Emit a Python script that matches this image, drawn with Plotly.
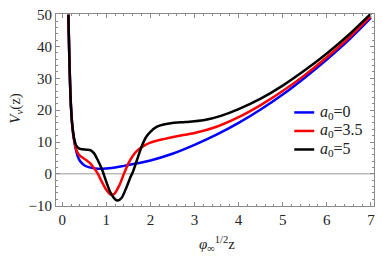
import plotly.graph_objects as go

# Data
z_blue = [0.14, 0.16, 0.18, 0.2, 0.23, 0.27, 0.3, 0.35, 0.4, 0.5, 0.6, 0.75, 0.9, 1.0, 1.2, 1.4, 1.7,
          2.0, 2.5, 3.0, 3.5, 4.0, 4.5, 5.0, 5.5, 6.0, 6.5, 7.0]
v_blue = [50, 38, 28, 21, 15, 10.5, 8.3, 5.6, 4.1, 2.7, 2.1, 1.7, 1.6, 1.7, 2.0, 2.5, 3.3,
          4.2, 6.3, 9.1, 12.3, 16.0, 20.2, 24.9, 30.2, 35.9, 42.1, 49.0]

z_red = [0.14, 0.16, 0.18, 0.2, 0.23, 0.27, 0.32, 0.38, 0.45, 0.55, 0.62, 0.7, 0.8, 0.9, 1.0, 1.1,
         1.18, 1.3, 1.4, 1.5, 1.6, 1.7, 1.85, 2.0, 2.3, 2.6, 3.0, 3.5, 4.0, 4.5, 5.0, 5.5, 6.0, 6.5, 7.0]
v_red = [50, 38, 28, 21, 15, 10.8, 7.6, 6.0, 5.2, 4.3, 3.5, 2.2, 0.2, -2.5, -5.0, -6.5,
         -6.3, -3.5, 0.0, 3.2, 5.6, 7.3, 8.8, 9.8, 10.9, 11.8, 12.8, 14.8, 17.8, 21.6, 26.0, 31.0, 36.6, 42.7, 49.5]

z_black = [0.14, 0.16, 0.18, 0.2, 0.23, 0.27, 0.32, 0.38, 0.45, 0.55, 0.65, 0.72, 0.8, 0.9, 1.0, 1.1,
           1.2, 1.26, 1.35, 1.45, 1.55, 1.6, 1.7, 1.8, 1.9, 2.0, 2.15, 2.3, 2.5, 2.8, 3.2, 3.6, 4.0, 4.5,
           5.0, 5.5, 6.0, 6.5, 7.0]
v_black = [50, 38, 28, 21, 15.2, 11.2, 8.9, 8.0, 7.7, 7.6, 7.4, 6.5, 4.5, 1.5, -2.5, -6.0,
           -8.0, -8.4, -7.5, -4.5, -1.0, 0.5, 4.5, 8.5, 11.5, 13.2, 14.8, 15.5, 16.0, 16.3, 16.8, 18.2, 20.3, 23.6,
           27.7, 32.5, 37.8, 43.7, 50.3]

labels = ["<i>a</i><sub>0</sub>=0", "<i>a</i><sub>0</sub>=3.5", "<i>a</i><sub>0</sub>=5"]
colors = ["#0000FF", "#FF0000", "#000000"]
z_series = [z_blue, z_red, z_black]
v_series = [v_blue, v_red, v_black]

x_ticks = [0, 1, 2, 3, 4, 5, 6, 7]
y_ticks = [-10, 0, 10, 20, 30, 40, 50]

W, H = 382, 256
L, R, T, B = 56, 7, 9, 50
PW, PH = W - L - R, H - T - B

def px_x(p):
    return (p - L) / PW

def px_y(p):
    return (H - B - p) / PH

fig = go.Figure()
for name, zz, vv, col in zip(labels, z_series, v_series, colors):
    fig.add_trace(go.Scatter(x=zz, y=vv, mode="lines", name=name, showlegend=False,
                             line=dict(color=col, width=2.5, shape="spline", smoothing=0.8)))

fig.add_hline(y=0, line=dict(color="#999999", width=1), layer="below")

font = "Liberation Serif"
axis_common = dict(showgrid=False, zeroline=False, showline=True, linecolor="#8a8a8a", linewidth=1,
                   mirror="ticks", ticks="inside", tickcolor="#8a8a8a", ticklen=4,
                   tickfont=dict(family=font, size=15, color="#222222"))

fig.update_xaxes(range=[-0.14, 7.07], tickvals=x_ticks,
                 minor=dict(dtick=0.2, tick0=0, ticks="inside", ticklen=2, tickcolor="#8a8a8a"),
                 **axis_common)
fig.update_yaxes(range=[-10.1, 50.2], tickvals=y_ticks,
                 minor=dict(dtick=2, tick0=0, ticks="inside", ticklen=2, tickcolor="#8a8a8a"),
                 **axis_common)

# Legend drawn inside the frame (lower right)
leg_rows = [110, 129, 148]
for lab, col, yy in zip(labels, colors, leg_rows):
    fig.add_shape(type="line", xref="paper", yref="paper",
                  x0=px_x(295), x1=px_x(315), y0=px_y(yy), y1=px_y(yy),
                  line=dict(color=col, width=2.5))
    fig.add_annotation(text=lab, xref="paper", yref="paper", x=px_x(319), y=px_y(yy),
                       xanchor="left", yanchor="middle", showarrow=False,
                       font=dict(family=font, size=16, color="#222222"))

fig.add_annotation(text="<i>φ</i><sub>∞</sub><sup>1/2</sup>z", xref="paper", yref="paper",
                   x=px_x(218), y=px_y(245), xanchor="center", yanchor="middle", showarrow=False,
                   font=dict(family=font, size=15, color="#222222"))
fig.add_annotation(text="<i>V</i><sub><i>ν</i></sub>(z)", xref="paper", yref="paper",
                   x=px_x(15), y=px_y(106), xanchor="center", yanchor="middle", textangle=-90,
                   showarrow=False, font=dict(family=font, size=15, color="#222222"))

fig.update_layout(
    width=W, height=H,
    margin=dict(l=L, r=R, t=T, b=B),
    paper_bgcolor="white", plot_bgcolor="white",
    font=dict(family=font),
    showlegend=False,
)

fig.write_html("out.html", config={"displayModeBar": False},
               post_script="document.body.style.margin='0';document.body.style.overflow='hidden';")
